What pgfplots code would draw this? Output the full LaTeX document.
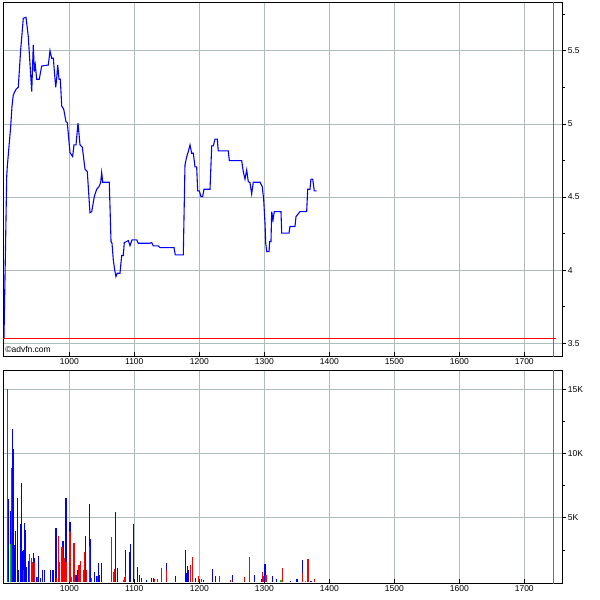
\documentclass[border=0pt]{standalone}
\usepackage{pgfplots}
\pgfplotsset{compat=1.18}
\usepackage{fontspec}
\setmainfont{Liberation Sans}
\definecolor{gridc}{RGB}{175,188,188}
\definecolor{darkl}{RGB}{105,115,115}
\definecolor{pblue}{RGB}{0,0,255}
\definecolor{vgreen}{RGB}{0,200,0}
\pgfplotsset{
 panel/.style={
  scale only axis, width=559.3pt,
  xmin=898, xmax=1758.5,
  scaled ticks=false,
  axis line style={black, line width=1pt},
  xtick={1000,1100,1200,1300,1400,1500,1600,1700},
  xticklabels={1000,1100,1200,1300,1400,1500,1600,1700},
  grid=major, major grid style={gridc, line width=0.6pt},
  ytick pos=right, yticklabel pos=right, xtick pos=bottom,
  xtick align=inside, ytick align=outside,
  major tick length=4pt, minor tick length=3pt,
  tick style={black, line width=0.6pt},
  tick label style={font=\fontsize{8.5}{10}\selectfont},
  xticklabel style={yshift=1pt},
  yticklabel style={xshift=-2pt},
 }
}
\begin{document}
\begin{tikzpicture}
\path[use as bounding box] (0,0) rectangle (600pt,-600pt);
\begin{axis}[panel, at={(3pt,-2.7pt)}, anchor=north west, height=353.3pt,
  ymin=3.413, ymax=5.828,
  ytick={3.5,4,4.5,5,5.5}, yticklabels={3.5,4,4.5,5,5.5},
  minor ytick={3.75,4.25,4.75,5.25,5.75}]
\addplot[darkl, line width=0.8pt] coordinates {(1745,3.3) (1745,5.9)};
\addplot[red, line width=1pt] coordinates {(898,3.534) (1748.8,3.534)};
\addplot[pblue, line width=1.1pt] coordinates {
(899.5,3.537) (903.7,4.639) (904.6,4.708) (907.7,4.869) (909.8,4.981) (911.8,5.117)
(913.8,5.197) (918.0,5.236) (921.5,5.250) (925.2,5.505) (929.2,5.721) (933.4,5.728)
(936.9,5.596) (942.2,5.220) (944.6,5.539) (946.2,5.357) (947.7,5.402) (949.8,5.305)
(953.8,5.305) (957.5,5.395) (967.7,5.402) (970.3,5.500) (972.9,5.448) (975.4,5.448)
(979.1,5.250) (980.6,5.311) (982.2,5.402) (984.2,5.305) (986.2,5.305) (988.3,5.122)
(991.4,5.100) (994.9,5.015) (996.9,5.008) (1001.1,4.803) (1005.2,4.776) (1007.2,4.856)
(1010.3,4.856) (1013.4,5.004) (1016.5,4.856) (1020.0,4.840) (1024.2,4.690) (1027.7,4.673)
(1031.8,4.393) (1034.5,4.400) (1038.5,4.503) (1042.2,4.553) (1045.7,4.571) (1048.3,4.598)
(1049.8,4.667) (1051.4,4.601) (1061.5,4.601) (1064.2,4.195) (1065.7,4.184) (1067.7,4.070)
(1069.8,4.002) (1071.8,3.956) (1073.8,3.979) (1078.0,3.979) (1080.6,4.100) (1083.1,4.100)
(1084.6,4.188) (1090.8,4.202) (1093.4,4.168) (1096.5,4.207) (1103.7,4.207) (1106.2,4.184)
(1124.2,4.184) (1126.8,4.188) (1129.2,4.166) (1136.9,4.166) (1139.5,4.154) (1161.1,4.154)
(1163.1,4.104) (1175.4,4.104) (1178.0,4.719) (1180.6,4.774) (1183.1,4.810) (1185.7,4.856)
(1188.3,4.799) (1190.8,4.799) (1193.4,4.706) (1196.0,4.706) (1197.5,4.542) (1200.0,4.542)
(1202.6,4.503) (1205.2,4.503) (1207.2,4.553) (1216.5,4.553) (1219.1,4.849) (1221.5,4.849)
(1224.2,4.895) (1227.7,4.895) (1229.2,4.815) (1244.6,4.815) (1246.2,4.749) (1265.2,4.749)
(1267.7,4.673) (1270.3,4.622) (1272.9,4.685) (1275.4,4.605) (1278.0,4.598) (1280.6,4.521)
(1283.1,4.601) (1293.4,4.601) (1296.9,4.571) (1299.1,4.480) (1301.1,4.321) (1302.2,4.184)
(1303.7,4.127) (1307.3,4.127) (1308.3,4.195) (1310.3,4.195) (1311.4,4.400) (1313.4,4.343)
(1315.4,4.400) (1325.7,4.400) (1326.8,4.253) (1338.0,4.253) (1339.5,4.298) (1347.2,4.298)
(1348.8,4.366) (1354.9,4.400) (1365.2,4.400) (1366.8,4.553) (1370.3,4.553) (1371.8,4.622)
(1374.5,4.622) (1376.9,4.542) (1380.6,4.542)
};
\node[anchor=south west, inner sep=1pt, font=\fontsize{8.5}{10}\selectfont] at (rel axis cs:0.002,0.005) {©advfn.com};
\end{axis}
\begin{axis}[panel, at={(3pt,-370.7pt)}, anchor=north west, height=212.6pt,
  ymin=-109, ymax=16450,
  ytick={5000,10000,15000}, yticklabels={5K,10K,15K},
  minor ytick={2500,7500,12500}]
\addplot[darkl, line width=0.8pt] coordinates {(1745,-200) (1745,17000)};
\addplot[ycomb, pblue, line width=1.1pt, mark=none] coordinates {
(905.7,6456) (910.3,5522) (912.3,11885) (913.8,10350) (915.4,2874) (916.9,3964)
(920.0,6557) (921.5,927) (925.2,4509) (926.8,7679) (928.3,2406) (929.8,2484)
(931.4,4587) (932.9,4042) (933.8,1184) (936.9,1628) (943.7,981) (945.2,2227)
(946.8,1885) (949.8,358) (952.9,2040) (956.0,280) (959.1,927) (962.1,927)
(971.4,927) (974.9,927) (979.5,4221) (990.3,3185) (994.9,6557) (1001.1,4688)
(1010.3,537) (1013.4,927) (1024.6,3598) (1030.8,6067) (1032.3,3364) (1038.5,794)
(1041.5,459) (1044.6,1495) (1046.2,537) (1049.2,1500) (1070.8,5467) (1073.8,1083)
(1086.2,2484) (1092.3,2352) (1093.8,2975) (1098.5,4509) (1104.6,1160) (1107.7,537)
(1110.8,304) (1119.1,125) (1126.8,280) (1129.8,280) (1149.2,1472) (1163.4,459)
(1178.5,2484) (1180.3,716) (1181.8,1238) (1183.4,927) (1193.8,304) (1206.2,148)
(1220.0,1005) (1224.6,459) (1250.8,537) (1284.6,537) (1296.5,200) (1301.1,1394)
(1312.3,459) (1318.5,250) (1340.6,90) (1350.3,250) (1359.1,1706) (1371.8,90)
};
\addplot[ycomb, red, line width=1.1pt, mark=none] coordinates {
(904.6,15023) (911.6,8847) (929.6,927) (938.4,2173) (941.5,1885) (943.1,1573)
(946.8,1495) (951.4,405) (980.6,327) (983.7,3598) (985.2,1573) (988.8,2741)
(991.8,1838) (994.9,1573) (1000.6,3987) (1002.2,3910) (1003.7,405) (1007.2,3006)
(1014.9,1316) (1016.9,1651) (1021.5,927) (1023.1,2352) (1026.2,927) (1030.8,2819)
(1033.8,280) (1043.1,459) (1064.6,3520) (1067.7,794) (1069.2,981) (1083.1,148)
(1084.6,358) (1086.2,537) (1130.8,200) (1135.4,200) (1142.2,1059) (1149.2,927)
(1186.2,1316) (1189.5,1950) (1199.1,459) (1203.1,200) (1230.8,459) (1248.3,170)
(1269.8,405) (1276.9,1963) (1297.5,771) (1299.1,459) (1302.6,537) (1328.3,1106)
(1359.1,670) (1367.2,1784) (1377.5,226)
};
\addplot[ycomb, vgreen, line width=1.1pt, mark=none] coordinates {
(909.3,2952) (1325.7,150) (1363.1,70)
};
\end{axis}
\end{tikzpicture}
\end{document}
